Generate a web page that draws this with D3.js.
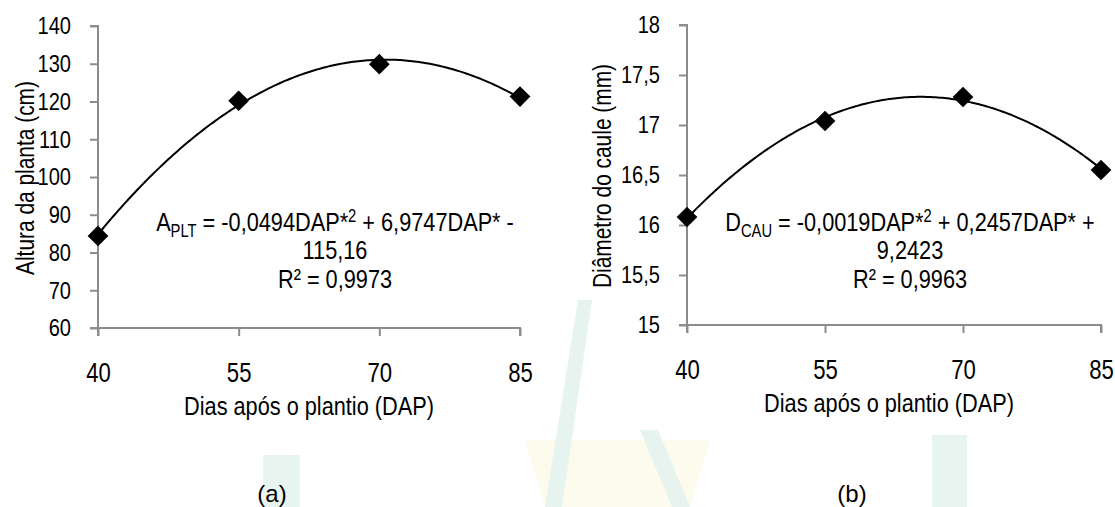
<!DOCTYPE html>
<html><head><meta charset="utf-8">
<script src="https://cdn.jsdelivr.net/npm/d3@7/dist/d3.min.js"></script>
<style>
html,body{margin:0;padding:0;background:#fff;}
svg{display:block;}
text{fill:#000;}
.narrow{font-family:'Liberation Sans Narrow','Liberation Sans',Arial,sans-serif;}
.reg{font-family:'Liberation Sans',Arial,sans-serif;}
</style></head>
<body>
<svg id="chart" width="1115" height="507"></svg>
<script>
// ---- data ----
const days = [40, 55, 70, 85];
const alturaValues = [84.4, 120.2, 129.9, 121.3];
const diametroValues = [16.08, 17.04, 17.28, 16.55];
const xTicks = [40, 55, 70, 85];
const alturaTicks = [60, 70, 80, 90, 100, 110, 120, 130, 140];
const diametroTicks = [15, 15.5, 16, 16.5, 17, 17.5, 18];
const xTitle = "Dias após o plantio (DAP)";
const alturaTitle = "Altura da planta (cm)";
const diametroTitle = "Diâmetro do caule (mm)";
const alturaEq = {main: "A", sub: "PLT", a: " = -0,0494DAP*", sup: "2", b: " + 6,9747DAP* -", line2: "115,16", r2: "R² = 0,9973"};
const diametroEq = {main: "D", sub: "CAU", a: " = -0,0019DAP*", sup: "2", b: " + 0,2457DAP* +", line2: "9,2423", r2: "R² = 0,9963"};
const panelLabels = ["(a)", "(b)"];

const svg = d3.select("#chart");
const fmt = v => String(v).replace(".", ",");
const S = 0.82; // horizontal condensing to imitate a narrow typeface

function condense(sel) {
  sel.each(function () {
    const t = d3.select(this);
    const x = +(t.attr("x") || 0);
    t.attr("x", x / S).attr("transform", (t.attr("transform") || "") + ` scale(${S},1)`);
  });
  return sel;
}

// watermark (faint background logo)
const wm = svg.append("g").attr("opacity", 0.11);
wm.append("polygon").attr("points", "263,455 300,455 300,507 263,507").attr("fill", "#2e9a6a");
wm.append("polygon").attr("points", "525,440 710,440 690,507 545,507").attr("fill", "#e8e26a");
wm.append("polygon").attr("points", "578,300 592,300 562,507 545,507").attr("fill", "#2e9a6a");
wm.append("polygon").attr("points", "640,430 658,430 690,507 672,507").attr("fill", "#2e9a6a");
wm.append("polygon").attr("points", "932,435 967,435 967,507 932,507").attr("fill", "#2e9a6a");

function quadFit(xs, ys) {
  // least squares y = a x^2 + b x + c
  let M0 = [[0,0,0],[0,0,0],[0,0,0]], T = [0,0,0];
  xs.forEach((x, i) => {
    const v = [x*x, x, 1];
    for (let r = 0; r < 3; r++) { T[r] += v[r]*ys[i]; for (let c = 0; c < 3; c++) M0[r][c] += v[r]*v[c]; }
  });
  const M = M0.map((row, i) => row.concat([T[i]]));
  for (let i = 0; i < 3; i++) {
    for (let k = i+1; k < 3; k++) {
      const f = M[k][i]/M[i][i];
      for (let j = i; j < 4; j++) M[k][j] -= f*M[i][j];
    }
  }
  const sol = [0,0,0];
  for (let i = 2; i >= 0; i--) {
    let s = M[i][3];
    for (let j = i+1; j < 3; j++) s -= M[i][j]*sol[j];
    sol[i] = s/M[i][i];
  }
  return x => sol[0]*x*x + sol[1]*x + sol[2];
}

function panel(cfg) {
  const g = svg.append("g");
  const x = d3.scaleLinear().domain([40, 85]).range(cfg.xr);
  const y = d3.scaleLinear().domain(cfg.yd).range(cfg.yr);

  const xa = g.append("g").attr("transform", `translate(0,${cfg.yr[0]})`)
    .call(d3.axisBottom(x).tickValues(xTicks).tickSize(8).tickPadding(27).tickFormat(d => d));
  const ya = g.append("g").attr("transform", `translate(${cfg.xr[0]},0)`)
    .call(d3.axisLeft(y).tickValues(cfg.yt).tickSize(8).tickPadding(19).tickFormat(fmt));
  [xa, ya].forEach(a => {
    a.select(".domain").attr("stroke", "#8c8c8c").attr("stroke-width", 2);
    a.selectAll(".tick line").attr("stroke", "#8c8c8c").attr("stroke-width", 2);
    a.selectAll("text").attr("class", "narrow").attr("fill", "#000");
  });
  xa.selectAll("text").attr("font-size", 27);
  ya.selectAll("text").attr("font-size", 24.5);
  condense(xa.selectAll("text"));
  condense(ya.selectAll("text"));
  xa.select(".domain").attr("d", `M${cfg.xr[0]-8},0H${cfg.xr[1]}V8`);
  ya.select(".domain").attr("d", `M-8,${cfg.yr[1]}H0V${cfg.yr[0]+8}`);

  const f = quadFit(days, cfg.vals);
  const pts = d3.range(40, 85.01, 0.25).map(d => [x(d), y(f(d))]);
  g.append("path").attr("d", d3.line()(pts)).attr("fill", "none").attr("stroke", "#000").attr("stroke-width", 2);

  const sym = d3.symbol().type(d3.symbolSquare).size(215);
  g.selectAll(".pt").data(days).join("path")
    .attr("d", sym)
    .attr("transform", (d, i) => `translate(${x(d)},${y(cfg.vals[i])}) rotate(45)`)
    .attr("fill", "#000");

  // axis titles
  condense(g.append("text").attr("class", "narrow").attr("font-size", 26.5)
    .attr("x", cfg.xtX).attr("y", cfg.xtY).attr("text-anchor", "middle").text(xTitle));
  condense(g.append("text").attr("class", "narrow").attr("font-size", 25.5)
    .attr("transform", `translate(${cfg.ytX},${cfg.ytY}) rotate(-90)`)
    .attr("text-anchor", "middle").attr("dy", "0.35em").text(cfg.ytitle));

  // equation
  const eq = cfg.eq;
  const t1 = g.append("text").attr("class", "narrow").attr("font-size", 26.5)
    .attr("x", cfg.eqX).attr("y", cfg.eqY).attr("text-anchor", "middle");
  t1.append("tspan").text(eq.main);
  t1.append("tspan").attr("font-size", 18).attr("dy", 6).text(eq.sub);
  t1.append("tspan").attr("dy", -6).text(eq.a);
  t1.append("tspan").attr("font-size", 18).attr("dy", -9).text(eq.sup);
  t1.append("tspan").attr("dy", 9).text(eq.b);
  condense(t1);
  condense(g.append("text").attr("class", "narrow").attr("font-size", 26.5)
    .attr("x", cfg.eqX).attr("y", cfg.eqY + 28).attr("text-anchor", "middle").text(eq.line2));
  condense(g.append("text").attr("class", "narrow").attr("font-size", 26.5)
    .attr("x", cfg.eqX).attr("y", cfg.eqY + 57).attr("text-anchor", "middle").text(eq.r2));

  g.append("text").attr("class", "reg").attr("font-size", 24)
    .attr("x", cfg.lblX).attr("y", 502).attr("text-anchor", "middle").text(cfg.lbl);
}

panel({xr: [98, 520], yr: [328, 26], yd: [60, 140], yt: alturaTicks, vals: alturaValues,
  ytitle: alturaTitle, ytX: 25, ytY: 178, xtX: 309, xtY: 415, eq: alturaEq, eqX: 335, eqY: 231,
  lbl: panelLabels[0], lblX: 272});
panel({xr: [687, 1101], yr: [325, 25], yd: [15, 18], yt: diametroTicks, vals: diametroValues,
  ytitle: diametroTitle, ytX: 602, ytY: 176, xtX: 889, xtY: 412, eq: diametroEq, eqX: 910, eqY: 231,
  lbl: panelLabels[1], lblX: 852});
</script>
</body></html>
